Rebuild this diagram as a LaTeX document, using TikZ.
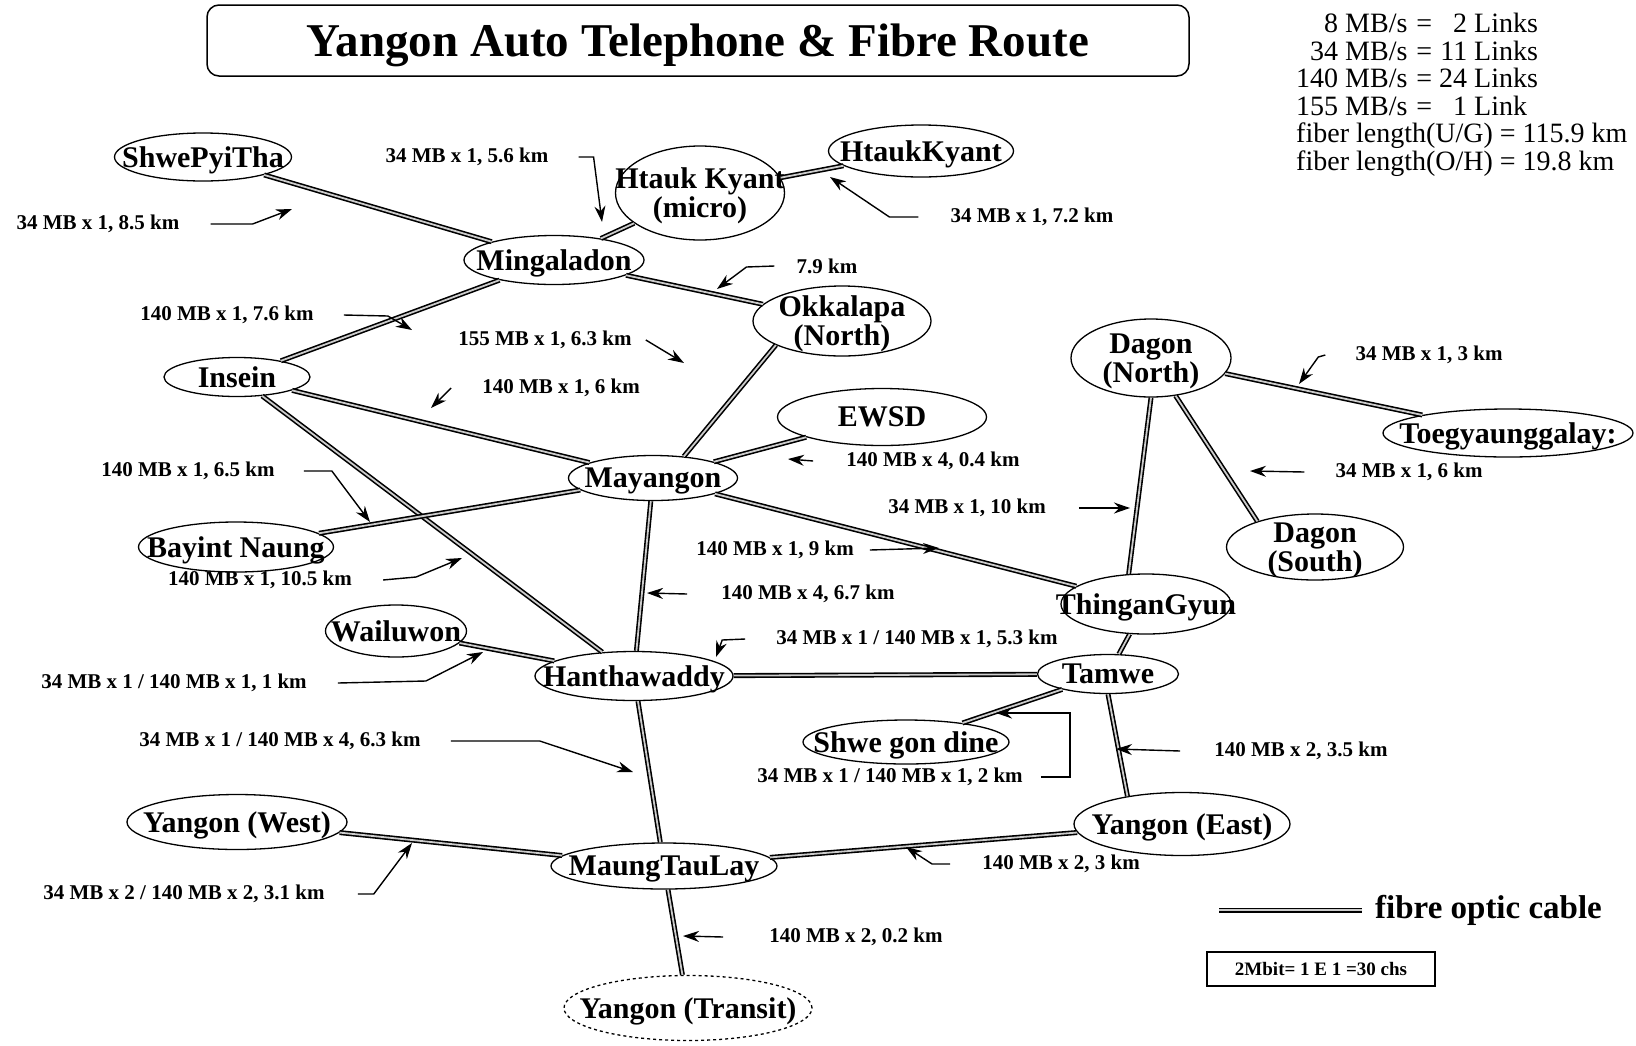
\documentclass[tikz,border=0pt]{standalone}
\usepackage{fontspec}
\setmainfont{Liberation Serif}
\usetikzlibrary{arrows.meta, shapes.geometric}

\tikzset{
  stn/.style={ellipse, draw, line width=1.3pt, inner sep=0pt,
              font=\fontsize{30}{29}\selectfont\bfseries},
  esize/.style 2 args={minimum width=#1pt, minimum height=#2pt},
  cable/.style={draw=black, line width=1.6pt, double=black!20, double distance=1.8pt},
  lbl/.style={inner sep=0pt, font=\fontsize{21}{21}\selectfont\bfseries},
  callout/.style={line width=1.4pt, -{Stealth[length=16pt, width=11pt]}},
  titlebox/.style={draw, line width=1.5pt, rounded corners=12pt,
                   minimum width=982pt, minimum height=71pt, text depth=0pt,
                   font=\fontsize{47}{47}\selectfont\bfseries},
}

\newcommand{\stnlabel}[1]{\smash{\raisebox{-.34em}{\makebox[0pt]{%
  \begin{tabular}[c]{@{}c@{}}#1\end{tabular}}}}}

\begin{document}
\begin{tikzpicture}[x=1pt, y=-1pt]
  \useasboundingbox (0,0) rectangle (1636,1045);

  \node[titlebox] (title) at (698,40.5) {Yangon Auto Telephone \& Fibre Route};

  \node[anchor=north west, inner sep=0pt, font=\fontsize{28}{26.8}\selectfont] (rates) at (1296,13) {%
    \begin{tabular}{@{}r@{\hspace{9pt}=\hspace{7pt}}r@{\ }l@{}}
      8 MB/s & 2 & Links\\
      34 MB/s & 11 & Links\\
      140 MB/s & 24 & Links\\
      155 MB/s & 1 & Link\\
      \multicolumn{3}{@{}l@{}}{fiber length(U/G) = 115.9 km}\\
      \multicolumn{3}{@{}l@{}}{fiber length(O/H) = 19.8 km}
    \end{tabular}};

  % exchanges
  \node[stn, esize={177}{48}] (spt) at (203,157) {\stnlabel{ShwePyiTha}};
  \node[stn, esize={169}{94}] (hkm) at (700,193) {\stnlabel{Htauk Kyant\\(micro)}};
  \node[stn, esize={185}{52}] (hk) at (921,151) {\stnlabel{HtaukKyant}};
  \node[stn, esize={180}{49}] (ming) at (554,260) {\stnlabel{Mingaladon}};
  \node[stn, esize={178}{70}] (okk) at (842,321) {\stnlabel{Okkalapa\\(North)}};
  \node[stn, esize={146}{39}] (ins) at (237,377) {\stnlabel{Insein}};
  \node[stn, esize={209}{57}] (ewsd) at (882,417) {\stnlabel{EWSD}};
  \node[stn, esize={160}{78}] (dgn) at (1151,358) {\stnlabel{Dagon\\(North)}};
  \node[stn, esize={250}{48}] (toe) at (1508,433) {\stnlabel{Toegyaunggalay:}};
  \node[stn, esize={169}{45}] (may) at (653,478) {\stnlabel{Mayangon}};
  \node[stn, esize={195}{50}] (bay) at (236,547) {\stnlabel{Bayint Naung}};
  \node[stn, esize={177}{66}] (dgs) at (1315,547) {\stnlabel{Dagon\\(South)}};
  \node[stn, esize={170}{60}] (thg) at (1146,604) {\stnlabel{ThinganGyun}};
  \node[stn, esize={141}{52}] (wai) at (396,631) {\stnlabel{Wailuwon}};
  \node[stn, esize={198}{49}] (han) at (634,676) {\stnlabel{Hanthawaddy}};
  \node[stn, esize={141}{39}] (tam) at (1108,674) {\stnlabel{Tamwe}};
  \node[stn, esize={206}{44}] (sgd) at (906,742) {\stnlabel{Shwe gon dine}};
  \node[stn, esize={220}{55}] (yw) at (237,822) {\stnlabel{Yangon (West)}};
  \node[stn, esize={216}{63}] (ye) at (1182,824) {\stnlabel{Yangon (East)}};
  \node[stn, esize={226}{46}] (mtl) at (664,866) {\stnlabel{MaungTauLay}};
  \node[stn, dashed, esize={248}{65}] (ytr) at (688,1008) {\stnlabel{Yangon (Transit)}};

  % fibre routes
  \foreach \a/\b in {spt/ming, hkm/hk, hkm/ming, ming/okk, ming/ins, ins/may, ins/han,
                     may.35/okk.200, ewsd/may, may/bay, may/thg, may/han, wai/han,
                     han/tam, han/mtl, thg/tam, tam/sgd, tam.south/ye.153,
                     dgn.south/thg.120, dgn/toe, dgn/dgs.156, yw/mtl, mtl/ye, mtl/ytr}
    \draw[cable] (\a) -- (\b);

  % link labels
  \node[lbl] (c1) at (98,224) {34 MB x 1, 8.5 km};
  \node[lbl] (c2) at (467,157) {34 MB x 1, 5.6 km};
  \node[lbl] (c3) at (1032,217) {34 MB x 1, 7.2 km};
  \node[lbl] (c4) at (827,266) {7.9 km};
  \node[lbl] (c5) at (227,315) {140 MB x 1, 7.6 km};
  \node[lbl] (c6) at (545,340) {155 MB x 1, 6.3 km};
  \node[lbl] (c7) at (561,388) {140 MB x 1, 6 km};
  \node[lbl] (c8) at (188,471) {140 MB x 1, 6.5 km};
  \node[lbl] (c9) at (260,580) {140 MB x 1, 10.5 km};
  \node[lbl] (c10) at (933,461) {140 MB x 4, 0.4 km};
  \node[lbl] (c11) at (967,508) {34 MB x 1, 10 km};
  \node[lbl] (c12) at (775,550) {140 MB x 1, 9 km};
  \node[lbl] (c13) at (808,594) {140 MB x 4, 6.7 km};
  \node[lbl] (c14) at (917,639) {34 MB x 1 / 140 MB x 1, 5.3 km};
  \node[lbl] (c15) at (174,683) {34 MB x 1 / 140 MB x 1, 1 km};
  \node[lbl] (c16) at (280,741) {34 MB x 1 / 140 MB x 4, 6.3 km};
  \node[lbl] (c17) at (890,777) {34 MB x 1 / 140 MB x 1, 2 km};
  \node[lbl] (c18) at (1301,751) {140 MB x 2, 3.5 km};
  \node[lbl] (c19) at (1061,864) {140 MB x 2, 3 km};
  \node[lbl] (c20) at (184,894) {34 MB x 2 / 140 MB x 2, 3.1 km};
  \node[lbl] (c21) at (856,937) {140 MB x 2, 0.2 km};
  \node[lbl] (c22) at (1429,355) {34 MB x 1, 3 km};
  \node[lbl] (c23) at (1409,472) {34 MB x 1, 6 km};

  \coordinate (t1) at (292,209);
  \coordinate (t2) at (602,222);
  \coordinate (t3) at (830,177);
  \coordinate (t4) at (717,289);
  \coordinate (t5) at (412,330);
  \coordinate (t6) at (684,363);
  \coordinate (t7) at (431,408);
  \coordinate (t8) at (370,522);
  \coordinate (t9) at (462,558);
  \coordinate (t10) at (788,459);
  \coordinate (t11) at (1130,508);
  \coordinate (t12) at (939,548);
  \coordinate (t13) at (647,593);
  \coordinate (t14) at (716,657);
  \coordinate (t15) at (483,652);
  \coordinate (t16) at (633,772);
  \coordinate (t17) at (996,713);
  \coordinate (t18) at (1116,749);
  \coordinate (t19) at (906,847);
  \coordinate (t20) at (412,843);
  \coordinate (t21) at (683,936);
  \coordinate (t22) at (1299,384);
  \coordinate (t23) at (1250,471);

  \draw[callout] ([xshift=31pt]c1.east) -- ++(42,0) -- (t1);
  \draw[callout] ([xshift=30pt]c2.east) -- ++(15,0) -- (t2);
  \draw[callout] ([xshift=-32pt]c3.west) -- ++(-29,0) -- (t3);
  \draw[callout] ([xshift=-22pt]c4.west) -- ++(-28,1) -- (t4);
  \draw[callout] ([xshift=30pt]c5.east) -- ++(44,1) -- (t5);
  \draw[callout] ([xshift=14pt]c6.east) -- (t6);
  \draw[callout] ([xshift=-31pt]c7.west) -- (t7);
  \draw[callout] ([xshift=29pt]c8.east) -- ++(28,0) -- (t8);
  \draw[callout] ([xshift=31pt]c9.east) -- ++(33,-3) -- (t9);
  \draw[callout] ([xshift=-33pt]c10.west) -- (t10);
  \draw[callout] ([xshift=33pt]c11.east) -- (t11);
  \draw[callout] ([xshift=16pt]c12.east) -- (t12);
  \draw[callout] ([xshift=-34pt]c13.west) -- (t13);
  \draw[callout] ([xshift=-31pt]c14.west) -- ++(-23,1) -- (t14);
  \draw[callout] ([xshift=31pt]c15.east) -- ++(88,-2) -- (t15);
  \draw[callout] ([xshift=30pt]c16.east) -- ++(89,0) -- (t16);
  \draw[callout] ([xshift=18pt]c17.east) -- ++(29,0) |- (t17);
  \draw[callout] ([xshift=-34pt]c18.west) -- (t18);
  \draw[callout] ([xshift=-32pt]c19.west) -- ++(-18,0) -- (t19);
  \draw[callout] ([xshift=33pt]c20.east) -- ++(16,0) -- (t20);
  \draw[callout] ([xshift=-46pt]c21.west) -- (t21);
  \draw[callout] ([xshift=-30pt]c22.west) -- ++(-7,2) -- (t22);
  \draw[callout] ([xshift=-31pt]c23.west) -- (t23);

  % key
  \node[anchor=west, inner sep=0pt, font=\fontsize{33}{33}\selectfont\bfseries] (fibre) at (1375,910) {fibre optic cable};
  \coordinate (fibstart) at (1219,910);
  \draw[cable] (fibstart) -- ([xshift=-13pt]fibre.west);
  \node[draw, line width=1.5pt, minimum width=228pt, minimum height=34pt,
        font=\fontsize{19}{19}\selectfont\bfseries] (eone) at (1321,969) {2Mbit= 1 E 1 =30 chs};
\end{tikzpicture}
\end{document}
